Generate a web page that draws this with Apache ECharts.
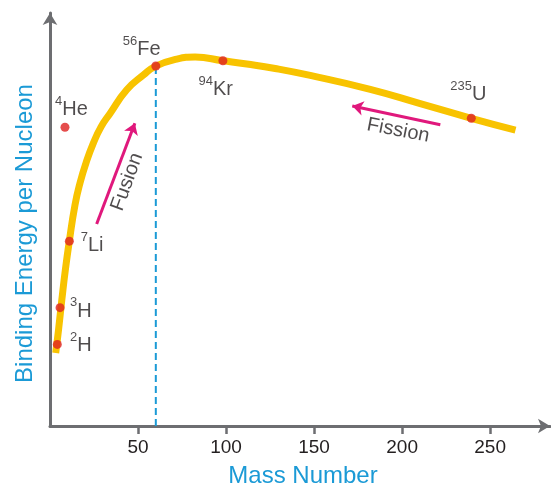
<!DOCTYPE html>
<html>
<head>
<meta charset="utf-8">
<script src="https://cdn.jsdelivr.net/npm/echarts@6/dist/echarts.min.js"></script>
<style>
  html, body { margin: 0; padding: 0; background: #fff; }
  #main { width: 551px; height: 487px; }
</style>
</head>
<body>
<div id="main"></div>
<script>
// nuclides shown as red dots (mass position, binding energy)
var nuclideSup = ["2", "3", "7", "4", "56", "94", "235"];
var nuclideSym = ["H", "H", "Li", "He", "Fe", "Kr", "U"];
var nuclideX = [4.15, 5.7, 11.0, 8.5, 60.1, 98.2, 239.3];
var nuclideY = [2.0, 2.9, 4.53, 7.32, 8.82, 8.95, 7.54];

// the yellow curve
var curveX = [3.24, 4.83, 6.71, 8.7, 10.97, 14.21, 17.06, 20.47, 24.62, 28.99, 34.11, 43.6, 53.04, 60.09, 72.03, 82.43, 98.18, 111.8, 127.9, 147.8, 181.9, 210.3, 239.3, 264.4];
var curveY = [1.79, 2.35, 3.09, 3.82, 4.53, 5.42, 5.96, 6.45, 6.93, 7.33, 7.66, 8.24, 8.6, 8.82, 8.99, 9.04, 8.95, 8.87, 8.76, 8.59, 8.25, 7.9, 7.54, 7.25];

var xTicks = [50, 100, 150, 200, 250];

// arrows (tail -> head) and their captions
var fusionArrow = [[26.5, 4.95], [48.2, 7.42]];
var fissionArrow = [[221.7, 7.38], [171.7, 7.84]];
var notes = ["Fusion", "Fission"];
var noteX = [43.8, 197.8];
var noteY = [5.98, 7.24];

var font = "'Liberation Sans', Arial, sans-serif";
var ink = "#231f20";
var blue = "#1b9ad6";
var gray = "#6d6e71";

// label placement (top-left of label relative to dot), pixels
var labelOffsets = [[12.7, -13.7], [10, -11.3], [11.4, -10.6], [-10, -32.5], [-33, -31.5], [-24.4, 14.1], [-21, -38.7]];
var noteRotate = [70, -11];

var curve = curveX.map(function (x, i) { return [x, curveY[i]]; });
var dots = nuclideX.map(function (x, i) {
  return {
    value: [x, nuclideY[i]],
    sup: nuclideSup[i],
    sym: nuclideSym[i],
    label: { offset: labelOffsets[i] }
  };
});
var feIdx = nuclideSym.indexOf("Fe");
var noteData = notes.map(function (n, i) {
  return { name: n, value: [noteX[i], noteY[i]], label: { rotate: noteRotate[i] } };
});

var option = {
  animation: false,
  grid: { left: 50, right: 1, top: 13, bottom: 61, outerBoundsMode: "none", containLabel: false },
  xAxis: {
    type: "value",
    min: 0,
    max: 284,
    interval: 50,
    name: "Mass Number",
    nameLocation: "middle",
    nameGap: 38,
    nameTextStyle: { color: blue, fontSize: 24, fontFamily: font, padding: [0, 0, 0, 6] },
    axisLine: {
      show: true,
      symbol: ["none", "arrow"],
      symbolSize: [11, 12],
      lineStyle: { color: gray, width: 3 }
    },
    axisTick: {
      show: true,
      length: 8,
      customValues: xTicks,
      lineStyle: { color: gray, width: 2.5 }
    },
    axisLabel: {
      customValues: xTicks,
      margin: 12,
      color: ink,
      fontSize: 19,
      fontFamily: font
    },
    splitLine: { show: false }
  },
  yAxis: {
    type: "value",
    min: 0,
    max: 10.12,
    name: "Binding Energy per Nucleon",
    nameLocation: "middle",
    nameGap: 13,
    nameTextStyle: { color: blue, fontSize: 24, fontFamily: font, padding: [0, 28, 0, 0] },
    axisLine: {
      show: true,
      symbol: ["none", "arrow"],
      symbolSize: [11, 12],
      lineStyle: { color: gray, width: 3 }
    },
    axisTick: { show: false },
    axisLabel: { show: false },
    splitLine: { show: false }
  },
  series: [
    {
      name: "fe",
      type: "line",
      z: 1,
      symbol: "none",
      data: [[nuclideX[feIdx], 0], [nuclideX[feIdx], nuclideY[feIdx]]],
      lineStyle: { color: blue, width: 2, type: [7, 4] }
    },
    {
      name: "curve",
      type: "line",
      z: 2,
      smooth: 0.5,
      symbol: "none",
      data: curve,
      lineStyle: { color: "#f8c300", width: 7, cap: "butt" }
    },
    {
      name: "nuclides",
      type: "scatter",
      z: 3,
      symbolSize: 9,
      itemStyle: { color: "#de2220" },
      data: dots,
      label: {
        show: true,
        position: "inside",
        align: "left",
        verticalAlign: "top",
        formatter: function (p) {
          return "{s|" + p.data.sup + "}{m|" + p.data.sym + "}";
        },
        rich: {
          s: { fontSize: 13, lineHeight: 14, verticalAlign: "top", color: ink, fontFamily: font },
          m: { fontSize: 20, lineHeight: 30, color: ink, fontFamily: font }
        }
      }
    },
    {
      name: "notes",
      type: "scatter",
      z: 4,
      symbolSize: 1,
      itemStyle: { color: "rgba(0,0,0,0)" },
      data: noteData,
      label: {
        show: true,
        position: "inside",
        align: "center",
        verticalAlign: "middle",
        formatter: "{b}",
        color: ink,
        fontSize: 20,
        fontFamily: font
      },
      markLine: {
        silent: true,
        symbol: ["none", "arrow"],
        symbolSize: 11,
        label: { show: false },
        lineStyle: { color: "#e0187c", width: 3, type: "solid" },
        data: [
          [{ coord: fusionArrow[0] }, { coord: fusionArrow[1] }],
          [{ coord: fissionArrow[0] }, { coord: fissionArrow[1] }]
        ]
      }
    }
  ]
};

var myChart = echarts.init(document.getElementById("main"));
myChart.setOption(option);
</script>
</body>
</html>
